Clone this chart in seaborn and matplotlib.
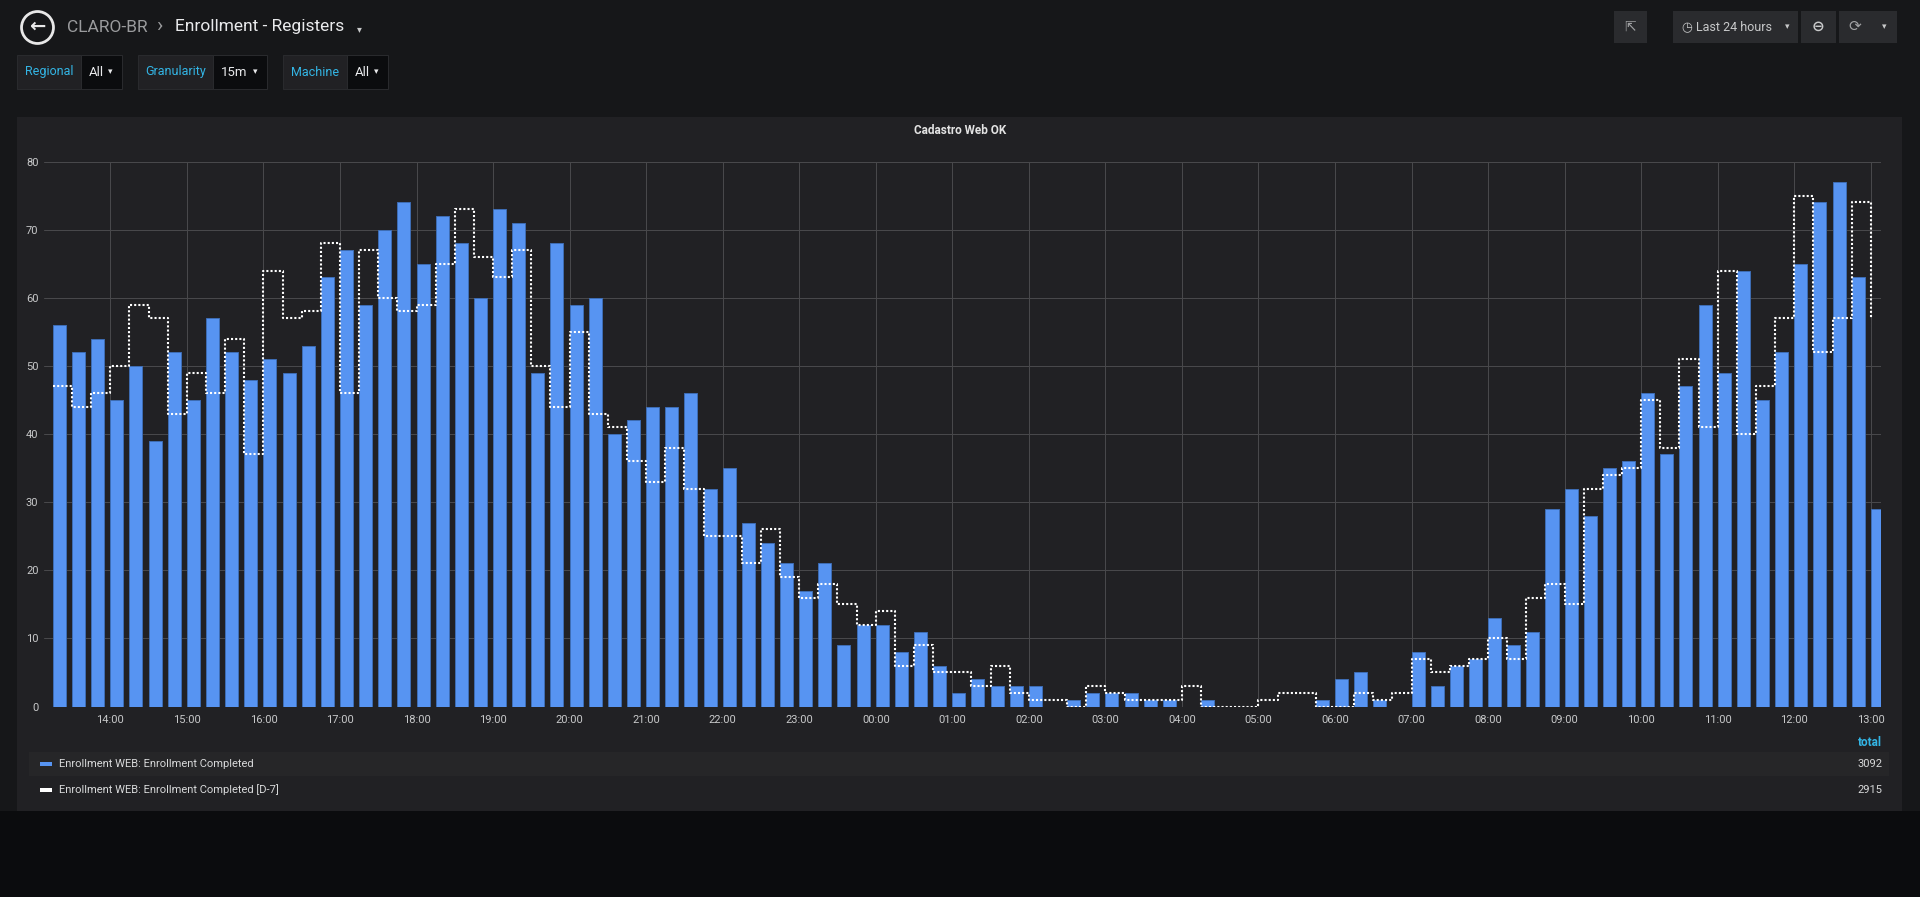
import matplotlib
matplotlib.use("Agg")
import matplotlib.pyplot as plt
from matplotlib.patches import Rectangle
from matplotlib.lines import Line2D
import pandas as pd
import seaborn as sns

# values per 15 minute bucket, 13:15 -> 13:00 next day
completed = [
    56, 52, 54, 45, 50, 39, 52, 45, 57, 52, 48, 51,
    49, 53, 63, 67, 59, 70, 74, 65, 72, 68, 60, 73,
    71, 49, 68, 59, 60, 40, 42, 44, 44, 46, 32, 35,
    27, 24, 21, 17, 21, 9, 12, 12, 8, 11, 6, 2,
    4, 3, 3, 3, 0, 1, 2, 2, 2, 1, 1, 0,
    1, 0, 0, 0, 0, 0, 1, 4, 5, 1, 0, 8,
    3, 6, 7, 13, 9, 11, 29, 32, 28, 35, 36, 46,
    37, 47, 59, 49, 64, 45, 52, 65, 74, 77, 63, 29,
]
completed_d7 = [
    47, 44, 46, 50, 59, 57, 43, 49, 46, 54, 37, 64,
    57, 58, 68, 46, 67, 60, 58, 59, 65, 73, 66, 63,
    67, 50, 44, 55, 43, 41, 36, 33, 38, 32, 25, 25,
    21, 26, 19, 16, 18, 15, 12, 14, 6, 9, 5, 5,
    3, 6, 2, 1, 1, 0, 3, 2, 1, 1, 1, 3,
    0, 0, 0, 1, 2, 2, 0, 0, 2, 1, 2, 7,
    5, 6, 7, 10, 7, 16, 18, 15, 32, 34, 35, 45,
    38, 51, 41, 64, 40, 47, 57, 75, 52, 57, 74, 57,
]
series_names = ["Enrollment WEB: Enrollment Completed",
                "Enrollment WEB: Enrollment Completed [D-7]"]
y_ticks = [0, 10, 20, 30, 40, 50, 60, 70, 80]

day0 = pd.Timestamp("2019-04-01")
times = pd.date_range("2019-04-01 13:15", periods=len(completed), freq="15min")
now = pd.Timestamp("2019-04-02 13:08")
range_start = now - pd.Timedelta(hours=24)

to_h = lambda t: (t - day0) / pd.Timedelta(hours=1)
bar_frac = 0.68
df = pd.DataFrame({
    "hour": to_h(times),
    "completed": completed,
    "d7": completed_d7,
})
df["bar_x"] = df["hour"] + bar_frac * 0.25 / 2

sns.set_style("dark")
plt.rcParams["font.family"] = ["Roboto", "DejaVu Sans"]

W, H = 1920, 897
fig = plt.figure(figsize=(W / 100, H / 100), dpi=100, facecolor="#161719")

def fx(x):
    return x / W

def fy(y):
    return 1 - y / H

def box(x0, y0, x1, y1, color, z=-5, ec="none"):
    fig.add_artist(Rectangle((fx(x0), fy(y1)), (x1 - x0) / W, (y1 - y0) / H,
                             transform=fig.transFigure, facecolor=color,
                             edgecolor=ec, lw=0.7, zorder=z))

def txt(x, y, s, **kw):
    kw.setdefault("va", "center")
    fig.text(fx(x), fy(y), s, **kw)

# page + panel background
box(0, 811, W, H, "#0b0c0e", z=-10)
box(17, 117, 1902, 811, "#212124", z=-6)

# header
fig.add_artist(Line2D([fx(37)], [fy(27)], marker="o", markersize=23, mfc="none",
                      mec="#e8e8e8", mew=2, transform=fig.transFigure))
txt(37, 27, "\u2190", ha="center", fontsize=14, weight="bold", color="#e8e8e8")
txt(67, 27, "CLARO-BR", fontsize=12.5, color="#9a9b9d")
txt(156, 27, "\u203a", fontsize=15, color="#9a9b9d")
txt(175, 27, "Enrollment - Registers", fontsize=12.5, color="#e9eaec")
txt(357, 29, "\u25be", fontsize=7, color="#c8c9ca")

# template variables
variables = [("Regional", "All", 17, 81, 122),
             ("Granularity", "15m", 138, 213, 267),
             ("Machine", "All", 283, 347, 388)]
for name, val, x0, x1, x2 in variables:
    box(x0, 55, x1, 89, "#212124", ec="#2a2b2e")
    box(x1, 55, x2, 89, "#0b0c0e", ec="#2a2b2e")
    txt((x0 + x1) / 2, 72, name, ha="center", fontsize=9, color="#33b5e5")
    txt(x1 + 8, 72, val, fontsize=9.5, color="#e9eaec")
    txt(x2 - 14, 72, "\u25be", fontsize=6.5, color="#e9eaec")

# top right buttons
box(1614, 11, 1647, 43, "#2a2b2e")
txt(1630, 27, "\u21f1", ha="center", fontsize=10, color="#a0a1a3")
box(1673, 11, 1798, 43, "#2a2b2e")
txt(1682, 27, "\u25f7 Last 24 hours", fontsize=9, color="#c8c9ca")
txt(1785, 27, "\u25be", fontsize=6.5, color="#c8c9ca")
box(1801, 11, 1836, 43, "#2a2b2e")
txt(1818, 27, "\u2296", ha="center", fontsize=11, color="#c8c9ca", weight="bold")
box(1839, 11, 1897, 43, "#2a2b2e")
txt(1855, 27, "\u27f3", ha="center", fontsize=11, color="#a0a1a3")
txt(1884, 27, "\u25be", ha="center", fontsize=6.5, color="#c8c9ca")

# panel title
txt(960, 130, "Cadastro Web OK", ha="center", fontsize=8.5, weight="bold",
    color="#e3e3e3")

# chart
ax = fig.add_axes([fx(44), fy(706.5), (1881 - 44) / W, (706.5 - 161.6) / H])
ax.set_facecolor("#212124")
sns.barplot(data=df, x="bar_x", y="completed", native_scale=True, orient="x",
            width=bar_frac, color="#5794F2", saturation=1, errorbar=None,
            edgecolor="#3e6db5", linewidth=0.7, ax=ax, zorder=2)
sns.lineplot(data=df, x="hour", y="d7", drawstyle="steps-post", color="white",
             linestyle=(0, (1, 1)), linewidth=1.5, errorbar=None, ax=ax, zorder=3)

hours = list(range(14, 38))
ax.set_xticks(hours)
ax.set_xticklabels([f"{h % 24:02d}:00" for h in hours])
ax.set_yticks(y_ticks)
ax.set_xlim(to_h(range_start), to_h(now))
ax.set_ylim(0, 80)
ax.set_xlabel("")
ax.set_ylabel("")
ax.grid(True, color="#48484b", lw=0.75)
ax.set_axisbelow(True)
for s in ax.spines.values():
    s.set_visible(False)
ax.tick_params(axis="both", length=0, colors="#c8c9ca", labelsize=8)
ax.tick_params(axis="x", pad=6)
ax.tick_params(axis="y", pad=4)

# legend table
txt(1882, 742, "total", ha="right", fontsize=8.5, weight="bold", color="#33b5e5")
box(29, 752, 1889, 776, "#262628", z=-4)
legend_colors = ["#5794F2", "white"]
totals = [sum(completed), sum(completed_d7)]
for i, (name, col, tot) in enumerate(zip(series_names, legend_colors, totals)):
    yy = 764 + 26 * i
    box(40, yy - 2, 52, yy + 2, col, z=1)
    txt(59, yy, name, fontsize=8, color="#d8d9da")
    txt(1882, yy, str(tot), ha="right", fontsize=8, color="#d8d9da")

fig.savefig("out.png", dpi=100, facecolor=fig.get_facecolor())
